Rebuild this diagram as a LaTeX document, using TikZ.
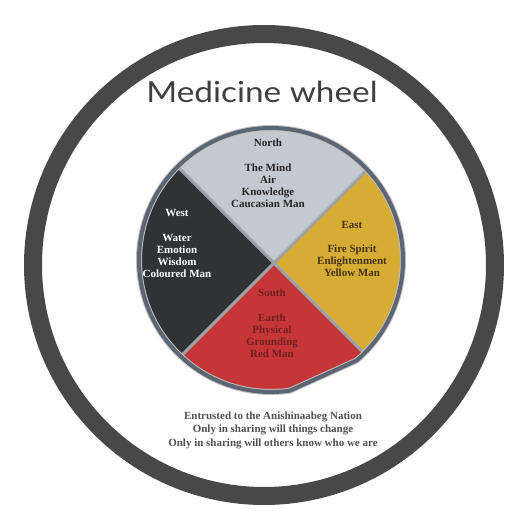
\documentclass[tikz,border=0pt]{standalone}
\usepackage{fontspec}
\setmainfont{Liberation Serif}
\newfontfamily\titlefont[FakeStretch=1.15]{Lato}
\usetikzlibrary{positioning}
\definecolor{ringgray}{RGB}{72,72,72}
\definecolor{rimgray}{RGB}{92,102,114}
\definecolor{northgray}{RGB}{196,201,208}
\definecolor{westblack}{RGB}{48,50,53}
\definecolor{eastyellow}{RGB}{214,172,50}
\definecolor{southred}{RGB}{198,54,56}
\definecolor{divgray}{RGB}{158,163,170}
\definecolor{easttext}{RGB}{70,52,22}
\definecolor{southtext}{RGB}{112,32,34}
\tikzstyle{heading} = [font=\bfseries\fontsize{11}{12}\selectfont, align=center, inner sep=0pt]
\tikzstyle{words} = [heading]
\tikzstyle{divider} = [divgray, line width=3pt]
\newcommand{\wheelpath}{(6,5) ++(-49.6:132) arc[start angle=-49.6, end angle=278.3, radius=132] -- cycle}

\begin{document}
\begin{tikzpicture}[x=1pt, y=1pt]
    \useasboundingbox[fill=white] (-265,-265) rectangle (265,265);

    % ring
    \draw[ringgray, line width=18pt] (-1,0) circle (231);

    % wheel
    \coordinate (hub) at (9,2);
    \begin{scope}
        \clip \wheelpath;
        \fill[northgray] (hub) -- +(45:250) -- +(135:250) -- cycle;
        \fill[westblack] (hub) -- +(135:250) -- +(225:250) -- cycle;
        \fill[southred] (hub) -- +(225:250) -- +(315:250) -- cycle;
        \fill[eastyellow] (hub) -- +(315:250) -- +(405:250) -- cycle;
        \foreach \a in {45,135,225,315}
            \draw[divider] (hub) -- +(\a:160);
    \end{scope}
    \draw[black!25, line width=6pt, line join=round] \wheelpath;
    \draw[rimgray, line width=4pt, line join=round] \wheelpath;

    \node (title) [anchor=base, text=black!75, inner sep=0pt, font=\titlefont\fontsize{29}{30}\selectfont] at (-3,162) {Medicine wheel};

    \node (northlbl) [heading, text=black!85] at (3,122) {North};
    \node (northtxt) [words, text=black!85, below=17pt of northlbl] {The Mind\\Air\\Knowledge\\Caucasian Man};
    \node (westlbl) [heading, text=white] at (-88,52) {West};
    \node (westtxt) [words, text=white, below=17pt of westlbl] {Water\\Emotion\\Wisdom\\Coloured Man};
    \node (eastlbl) [heading, text=easttext] at (87,40) {East};
    \node (easttxt) [words, text=easttext, below=16pt of eastlbl] {Fire Spirit\\Enlightenment\\Yellow Man};
    \node (southlbl) [heading, text=southtext] at (7,-28) {South};
    \node (southtxt) [words, text=southtext, below=17pt of southlbl] {Earth\\Physical\\Grounding\\Red Man};

    \node (motto) [heading, text=black!68, font=\bfseries\fontsize{11}{13.5}\selectfont] at (8,-165) {Entrusted to the Anishinaabeg Nation\\Only in sharing will things change\\Only in sharing will others know who we are};

\end{tikzpicture}
\end{document}
